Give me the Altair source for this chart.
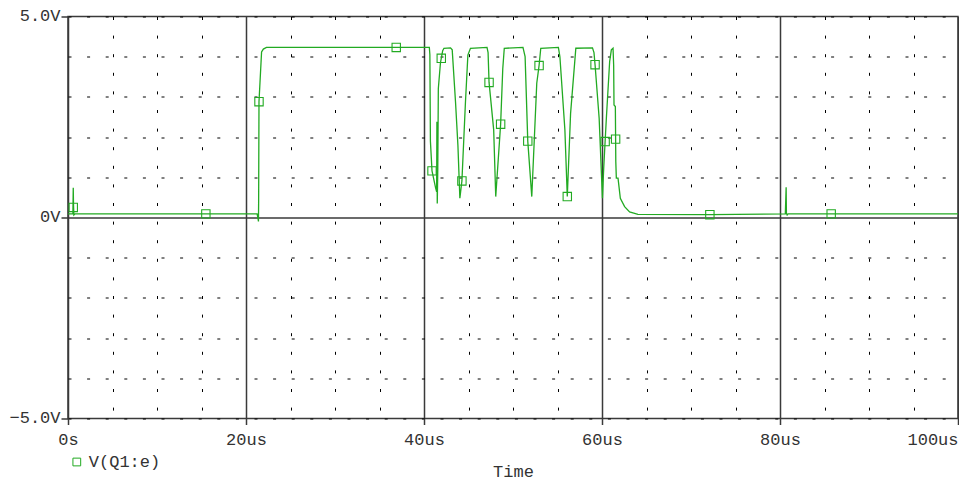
import altair as alt
import pandas as pd

FONT = "Liberation Mono"
TXT = "#333333"
GREEN = "#22aa22"
DARK = "#3a3a3a"

series_name = "V(Q1:e)"

# trace (time in us, voltage in V)
trace_t = [0.00, 0.55, 0.59, 0.62, 0.66, 0.80, 15.49, 21.25, 21.33, 21.40, 21.42, 21.46,
           21.75, 21.95, 22.30, 36.88, 40.60, 40.66, 40.72, 40.90, 41.31, 41.42, 41.45,
           41.49, 41.55, 41.61, 41.85, 41.94, 42.10, 42.24, 42.98, 43.17, 43.54, 43.81,
           44.03, 44.26, 44.66, 44.93, 45.22, 47.08, 47.20, 47.31, 47.83, 48.06, 48.61,
           48.85, 49.02, 51.12, 51.36, 51.66, 52.11, 52.67, 52.93, 53.12, 55.10, 55.27,
           55.83, 56.10, 56.47, 57.06, 58.93, 59.10, 59.22, 59.68, 59.94, 60.05, 60.19,
           60.35, 60.49, 60.86, 61.05, 61.24, 61.31, 61.35, 61.50, 61.53, 61.55, 61.61,
           61.80, 62.06, 62.54, 63.10, 64.04, 72.12, 80.60, 80.69, 80.72, 80.80, 80.90,
           85.75, 100.00]
trace_v = [0.09, 0.09, 0.74, 0.30, 0.06, 0.09, 0.09, 0.09, 0.00, -0.10, 0.40, 2.88,
           4.12, 4.19, 4.23, 4.23, 4.23, 4.05, 1.90, 1.16, 0.73, 0.64, 2.38,
           0.35, 1.22, 3.21, 3.85, 3.96, 4.15, 4.21, 4.22, 4.17, 2.88, 1.80,
           0.48, 0.91, 2.88, 4.04, 4.21, 4.23, 4.10, 3.36, 2.18, 0.52, 2.32,
           3.70, 4.21, 4.23, 4.00, 1.90, 0.52, 3.34, 3.78, 4.21, 4.23, 4.00,
           2.18, 0.52, 2.59, 4.21, 4.22, 4.10, 3.80, 2.47, 1.06, 0.48, 1.22,
           1.89, 2.47, 3.88, 4.17, 4.21, 3.79, 2.80, 2.76, 1.95, 1.39, 0.98,
           0.98, 0.48, 0.27, 0.14, 0.08, 0.07, 0.09, 0.75, 0.10, 0.06, 0.09,
           0.09, 0.09]

# marker squares
marker_t = [0.59, 15.49, 21.46, 36.88, 40.90, 41.94, 44.26, 47.31, 48.61, 51.66,
            52.93, 56.10, 59.22, 60.35, 61.53, 72.12, 85.75]
marker_v = [0.25, 0.09, 2.88, 4.23, 1.16, 3.96, 0.91, 3.36, 2.32, 1.90,
            3.78, 0.52, 3.80, 1.89, 1.95, 0.07, 0.09]

x_ticks = [0, 5, 10, 15, 20, 25, 30, 35, 40, 45, 50, 55, 60, 65, 70, 75, 80, 85, 90, 95, 100]
y_ticks = [-5, -4, -3, -2, -1, 0, 1, 2, 3, 4, 5]

df_line = pd.DataFrame({"t": trace_t, "v": trace_v, "series": series_name,
                        "i": list(range(len(trace_t)))})
df_mark = pd.DataFrame({"t": marker_t, "v": marker_v, "series": series_name})

major_x = "datum.value % 20 === 0"
major_y = "datum.value === 0"

x_axis = alt.Axis(
    values=x_ticks,
    title="Time",
    labelExpr="datum.value === 0 ? '0s' : (datum.value % 20 === 0 ? datum.value + 'us' : '')",
    labelFont=FONT, labelFontSize=17, labelColor=TXT,
    labelFlush=False, labelOverlap=False,
    labelAlign={"condition": {"test": "datum.value === 100", "value": "right"}, "value": "center"},
    labelBaseline="alphabetic", labelPadding=19.5,
    tickSize=6, tickColor=DARK, tickWidth=1.5,
    tickOpacity={"condition": {"test": major_x, "value": 1}, "value": 0},
    grid=True,
    gridColor={"condition": {"test": major_x, "value": DARK}, "value": "#000000"},
    gridWidth={"condition": {"test": major_x, "value": 1.5}, "value": 1},
    gridDash={"condition": {"test": major_x, "value": []}, "value": [3, 15.6]},
    domain=False,
    titleFont=FONT, titleFontSize=17, titleFontWeight="normal", titleColor=TXT,
    titleY=57.5, titleBaseline="alphabetic",
)

y_axis = alt.Axis(
    values=y_ticks,
    title=None,
    labelExpr="datum.value === 0 ? '0V' : (datum.value % 5 === 0 ? format(datum.value, '.1f') + 'V' : '')",
    labelFont=FONT, labelFontSize=17, labelColor=TXT,
    labelOverlap=False, labelBaseline="middle", labelPadding=1, labelOffset=-1,
    tickSize=7, tickColor=DARK, tickWidth=1.5,
    tickOpacity={"condition": {"test": "datum.value % 5 === 0", "value": 1}, "value": 0},
    grid=True,
    gridColor={"condition": {"test": major_y, "value": DARK}, "value": "#000000"},
    gridWidth={"condition": {"test": major_y, "value": 1.5}, "value": 1},
    gridDash={"condition": {"test": major_y, "value": []}, "value": [3, 15.6]},
    domain=False,
)

x_scale = alt.Scale(domain=[0, 100], nice=False, zero=False)
y_scale = alt.Scale(domain=[-5, 5], nice=False, zero=False)

color = alt.Color(
    "series:N",
    scale=alt.Scale(domain=[series_name], range=[GREEN]),
    legend=alt.Legend(
        orient="none", legendX=0.3, legendY=437, title=None,
        symbolType="square", symbolSize=60, symbolStrokeWidth=1,
        symbolFillColor="transparent",
        labelFont=FONT, labelFontSize=17, labelColor=TXT, labelOffset=3.5,
        padding=0, rowPadding=0,
    ),
)

line = alt.Chart(df_line).mark_line(strokeWidth=1.3).encode(
    x=alt.X("t:Q", scale=x_scale, axis=x_axis),
    y=alt.Y("v:Q", scale=y_scale, axis=y_axis),
    color=color,
    order="i:Q",
)

points = alt.Chart(df_mark).mark_point(shape="square", filled=False, size=70,
                                       strokeWidth=1.1, opacity=1).encode(
    x=alt.X("t:Q", scale=x_scale),
    y=alt.Y("v:Q", scale=y_scale),
    color=color,
)

chart = alt.layer(line, points).properties(
    width=890, height=402,
    autosize=alt.AutoSizeParams(type="none"),
    padding={"left": 60, "top": 8.5, "right": 1, "bottom": 62.5},
    background="white",
).configure_view(stroke=DARK, strokeWidth=1.5)

chart.save("out.html", embed_options={"renderer": "svg", "actions": False})
